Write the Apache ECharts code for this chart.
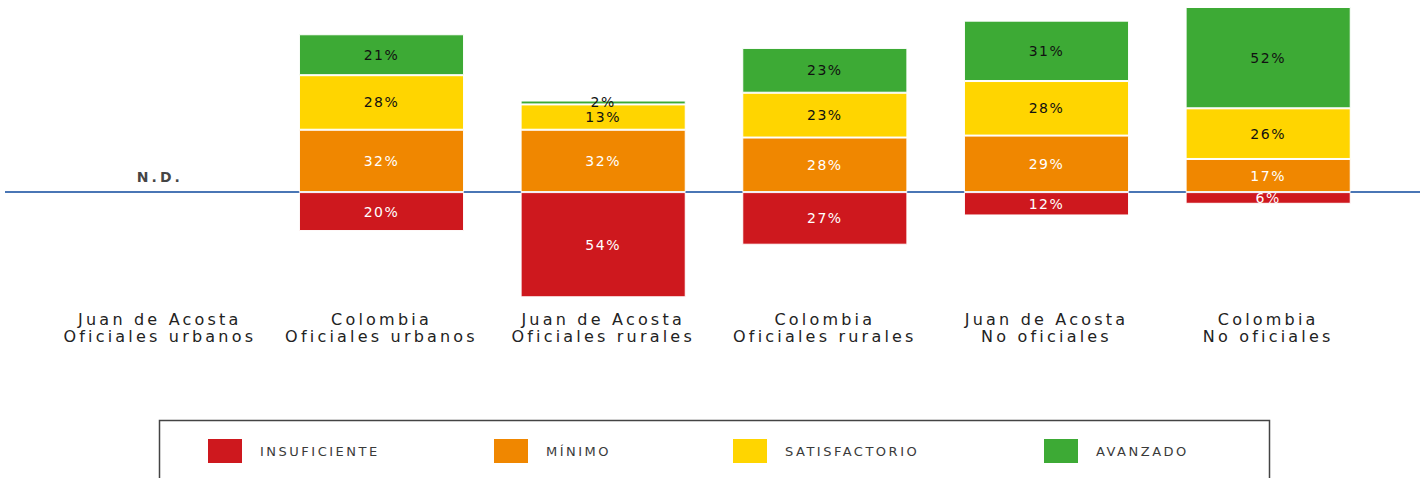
<!DOCTYPE html>
<html>
<head>
<meta charset="utf-8">
<script src="https://cdn.jsdelivr.net/npm/echarts@6/dist/echarts.min.js"></script>
<style>
  html, body { margin: 0; padding: 0; background: #fff; }
  #chart { width: 1424px; height: 478px; }
  /* espaciado entre letras como en el original */
  #chart text[style*="16px"] { letter-spacing: 3.2px; }
  #chart text[style*="14px"] { letter-spacing: 1.5px; }
  #chart text[style*="13px"] { letter-spacing: 2.5px; }
  #chart text[style*="bold"] { letter-spacing: 3px; }
</style>
</head>
<body>
<div id="chart"></div>
<script>
// categorías (eje X)
var categorias = [
  'Juan de Acosta\nOficiales urbanos',
  'Colombia\nOficiales urbanos',
  'Juan de Acosta\nOficiales rurales',
  'Colombia\nOficiales rurales',
  'Juan de Acosta\nNo oficiales',
  'Colombia\nNo oficiales'
];
// porcentajes por nivel (null = sin dato)
var insuficiente  = [null, 20, 54, 27, 12, 6];
var minimo        = [null, 32, 32, 28, 29, 17];
var satisfactorio = [null, 28, 13, 23, 28, 26];
var avanzado      = [null, 21, 2, 23, 31, 52];
var sinDato       = [0, null, null, null, null, null]; // "N.D."

var niveles = ['INSUFICIENTE', 'MÍNIMO', 'SATISFACTORIO', 'AVANZADO'];
var colores = ['#ce181e', '#f08700', '#ffd500', '#3daa35'];
var leyendaX = [201, 487, 726, 1037];

var fuente = 'DejaVu Sans';

function serie(i, datos, textColor) {
  return {
    name: niveles[i],
    type: 'bar',
    stack: 'total',
    barWidth: '74.5%',
    data: datos,
    itemStyle: { color: colores[i], borderColor: '#fff', borderWidth: 1 },
    label: {
      show: true,
      position: 'inside',
      color: textColor,
      fontFamily: fuente,
      fontSize: 14,
      formatter: function (p) { return Math.abs(p.value) + '%'; }
    }
  };
}

// una leyenda por nivel, para controlar la posición de cada una
var leyendas = niveles.map(function (n, i) {
  return {
    left: leyendaX[i],
    top: 432,
    itemWidth: 36,
    itemHeight: 26,
    icon: 'rect',
    selectedMode: false,
    textStyle: { fontFamily: fuente, fontSize: 13, color: '#3a3a3a', padding: [0, 0, 0, 12] },
    data: [n]
  };
});

var chart = echarts.init(document.getElementById('chart'), null, { renderer: 'svg' });
var option = {
  animation: false,
  color: colores,
  grid: { left: 49, right: 45, top: 7, height: 302 },
  legend: leyendas,
  xAxis: {
    type: 'category',
    data: categorias,
    axisLine: { show: false, onZero: false },
    axisTick: { show: false },
    axisLabel: {
      interval: 0,
      margin: 2,
      fontFamily: fuente,
      fontSize: 16,
      lineHeight: 17,
      color: '#222'
    }
  },
  yAxis: {
    type: 'value',
    min: -60,
    max: 95,
    show: false,
    splitLine: { show: false }
  },
  series: [
    serie(0, insuficiente.map(function (v) { return v == null ? null : -v; }), '#fff'),
    serie(1, minimo, '#fff'),
    serie(2, satisfactorio, '#111'),
    serie(3, avanzado, '#111'),
    {
      name: 'ND',
      type: 'scatter',
      data: sinDato,
      symbolSize: 0,
      label: {
        show: true,
        position: 'top',
        distance: 8,
        formatter: 'N.D.',
        fontFamily: fuente,
        fontWeight: 'bold',
        fontSize: 14,
        color: '#111'
      }
    }
  ]
};
chart.setOption(option);

// línea base en el cero, de borde a borde, y marco de la leyenda
var y0 = chart.convertToPixel({ yAxisIndex: 0 }, 0);
chart.setOption({
  graphic: [{
    type: 'line',
    shape: { x1: 5, y1: y0, x2: 1420, y2: y0 },
    style: { stroke: '#4a76b5', lineWidth: 2 },
    z: 0
  }, {
    type: 'rect',
    shape: { x: 159.5, y: 420.5, width: 1110, height: 120 },
    style: { fill: 'none', stroke: '#444', lineWidth: 1.5 }
  }]
});
</script>
</body>
</html>
